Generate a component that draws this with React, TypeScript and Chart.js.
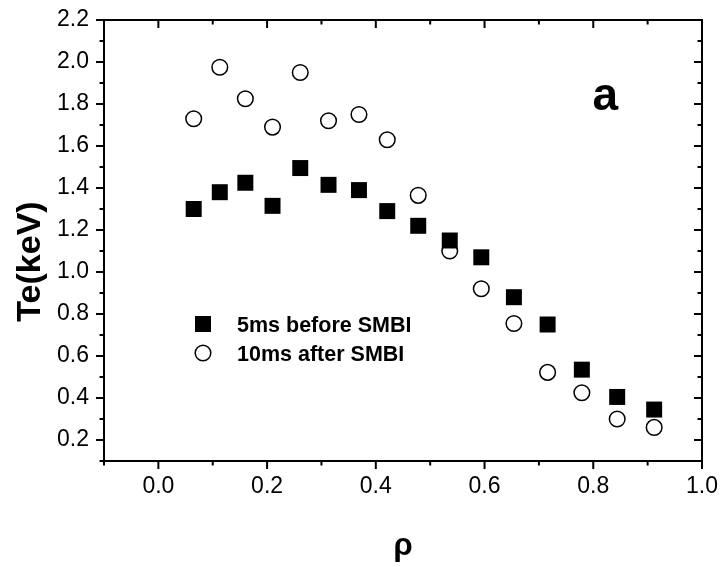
import React, { useEffect, useRef } from 'react';
import { Chart, registerables } from 'chart.js';

Chart.register(...registerables);

// ---- data ----
const rhoValues = [0.065, 0.113, 0.16, 0.21, 0.261, 0.313, 0.369, 0.421, 0.478, 0.536, 0.594, 0.654, 0.716, 0.779, 0.844, 0.912];
const teBefore = [1.3, 1.38, 1.425, 1.315, 1.495, 1.415, 1.39, 1.29, 1.22, 1.15, 1.07, 0.88, 0.75, 0.535, 0.405, 0.345];
const teAfter = [1.73, 1.975, 1.825, 1.69, 1.95, 1.72, 1.75, 1.63, 1.365, 1.1, 0.92, 0.755, 0.522, 0.425, 0.3, 0.26];
const seriesLabels = ['5ms before SMBI', '10ms after SMBI'];

const xMajorTicks = [0, 0.2, 0.4, 0.6, 0.8, 1.0];
const xMinorTicks = [-0.1, 0.1, 0.3, 0.5, 0.7, 0.9];
const yMajorTicks = [0.2, 0.4, 0.6, 0.8, 1.0, 1.2, 1.4, 1.6, 1.8, 2.0, 2.2];
const yMinorTicks = [0.1, 0.3, 0.5, 0.7, 0.9, 1.1, 1.3, 1.5, 1.7, 1.9, 2.1];

const xTitle = 'ρ';
const yTitle = 'Te(keV)';
const panelLabel = 'a';

const FONT = '"Liberation Sans", Arial, Helvetica, sans-serif';
const SQUARE_R = 11.3;
const CIRCLE_R = 7.8;

const framePlugin = {
  id: 'frameAndTicks',
  afterDraw(chart: any) {
    const { ctx, chartArea } = chart;
    const { left, right, top, bottom } = chartArea;
    const xs = chart.scales.x;
    const ys = chart.scales.y;
    ctx.save();
    ctx.strokeStyle = '#000';
    ctx.lineWidth = 2;
    ctx.strokeRect(left, top, right - left, bottom - top);
    ctx.beginPath();
    const major = 8;
    const minor = 4.5;
    xMajorTicks.forEach((v) => {
      const px = xs.getPixelForValue(v);
      ctx.moveTo(px, bottom); ctx.lineTo(px, bottom + major);
      ctx.moveTo(px, top); ctx.lineTo(px, top + major);
    });
    xMinorTicks.forEach((v) => {
      const px = xs.getPixelForValue(v);
      ctx.moveTo(px, bottom); ctx.lineTo(px, bottom + minor);
      ctx.moveTo(px, top); ctx.lineTo(px, top + minor);
    });
    yMajorTicks.forEach((v) => {
      const py = ys.getPixelForValue(v);
      ctx.moveTo(left, py); ctx.lineTo(left - major, py);
      ctx.moveTo(right, py); ctx.lineTo(right - major, py);
    });
    yMinorTicks.forEach((v) => {
      const py = ys.getPixelForValue(v);
      ctx.moveTo(left, py); ctx.lineTo(left - minor, py);
      ctx.moveTo(right, py); ctx.lineTo(right - minor, py);
    });
    ctx.stroke();

    // axis titles
    ctx.fillStyle = '#000';
    ctx.font = `bold 34px ${FONT}`;
    ctx.textAlign = 'center';
    ctx.textBaseline = 'alphabetic';
    ctx.save();
    ctx.translate(39.5, (top + bottom) / 2 + 21);
    ctx.rotate(-Math.PI / 2);
    ctx.fillText(yTitle, 0, 0);
    ctx.restore();

    ctx.font = `bold 31px ${FONT}`;
    ctx.fillText(xTitle, (left + right) / 2, 555);

    // panel label
    ctx.font = `bold 46px ${FONT}`;
    ctx.fillText(panelLabel, xs.getPixelForValue(0.822), 110);

    // legend
    const lx = 203;
    const rows = [324, 353];
    ctx.fillStyle = '#000';
    const s = SQUARE_R * Math.SQRT1_2;
    ctx.fillRect(lx - s, rows[0] - s, 2 * s, 2 * s);
    ctx.beginPath();
    ctx.arc(lx, rows[1], CIRCLE_R, 0, Math.PI * 2);
    ctx.fillStyle = '#fff';
    ctx.fill();
    ctx.lineWidth = 1.5;
    ctx.strokeStyle = '#000';
    ctx.stroke();
    ctx.fillStyle = '#000';
    ctx.font = `bold 21.5px ${FONT}`;
    ctx.textAlign = 'left';
    ctx.fillText(seriesLabels[0], 237, rows[0] + 8);
    ctx.fillText(seriesLabels[1], 237, rows[1] + 8);
    ctx.restore();
  },
};

export default function App() {
  const canvasRef = useRef<HTMLCanvasElement | null>(null);

  useEffect(() => {
    document.body.style.margin = '0';
    const canvas = canvasRef.current;
    if (!canvas) return;
    const chart = new Chart(canvas, {
      type: 'scatter',
      data: {
        datasets: [
          {
            label: seriesLabels[0],
            data: rhoValues.map((x, i) => ({ x, y: teBefore[i] })),
            pointStyle: 'rect',
            pointRadius: SQUARE_R,
            pointHoverRadius: SQUARE_R,
            backgroundColor: '#000',
            borderColor: '#000',
            borderWidth: 0,
          },
          {
            label: seriesLabels[1],
            data: rhoValues.map((x, i) => ({ x, y: teAfter[i] })),
            pointStyle: 'circle',
            pointRadius: CIRCLE_R,
            pointHoverRadius: CIRCLE_R,
            backgroundColor: '#fff',
            borderColor: '#000',
            borderWidth: 1.5,
          },
        ],
      },
      options: {
        animation: false,
        responsive: false,
        maintainAspectRatio: false,
        events: [],
        layout: { padding: { left: 0, right: 21, top: 20, bottom: 0 } },
        plugins: {
          legend: { display: false },
          tooltip: { enabled: false },
        },
        scales: {
          x: {
            type: 'linear',
            min: -0.1,
            max: 1.0,
            afterBuildTicks: (scale: any) => {
              scale.ticks = xMajorTicks.map((value) => ({ value }));
            },
            afterFit: (scale: any) => {
              scale.height = 106;
              scale.paddingLeft = 0;
              scale.paddingRight = 0;
            },
            grid: { display: false, drawTicks: false },
            border: { display: false },
            ticks: {
              padding: 12,
              color: '#000',
              font: { family: FONT, size: 23 },
              callback: (v: any) => Number(v).toFixed(1),
              maxRotation: 0,
              autoSkip: false,
            },
          },
          y: {
            type: 'linear',
            min: 0.1,
            max: 2.2,
            afterBuildTicks: (scale: any) => {
              scale.ticks = yMajorTicks.map((value) => ({ value }));
            },
            afterFit: (scale: any) => {
              scale.width = 104;
              scale.paddingTop = 0;
              scale.paddingBottom = 0;
            },
            grid: { display: false, drawTicks: false },
            border: { display: false },
            ticks: {
              padding: 15,
              color: '#000',
              font: { family: FONT, size: 23 },
              callback: (v: any) => Number(v).toFixed(1),
              autoSkip: false,
            },
          },
        },
      },
      plugins: [framePlugin],
    });
    return () => chart.destroy();
  }, []);

  return (
    <div style={{ width: 723, height: 567 }}>
      <canvas ref={canvasRef} width={723} height={567} style={{ display: 'block', width: 723, height: 567 }} />
    </div>
  );
}
